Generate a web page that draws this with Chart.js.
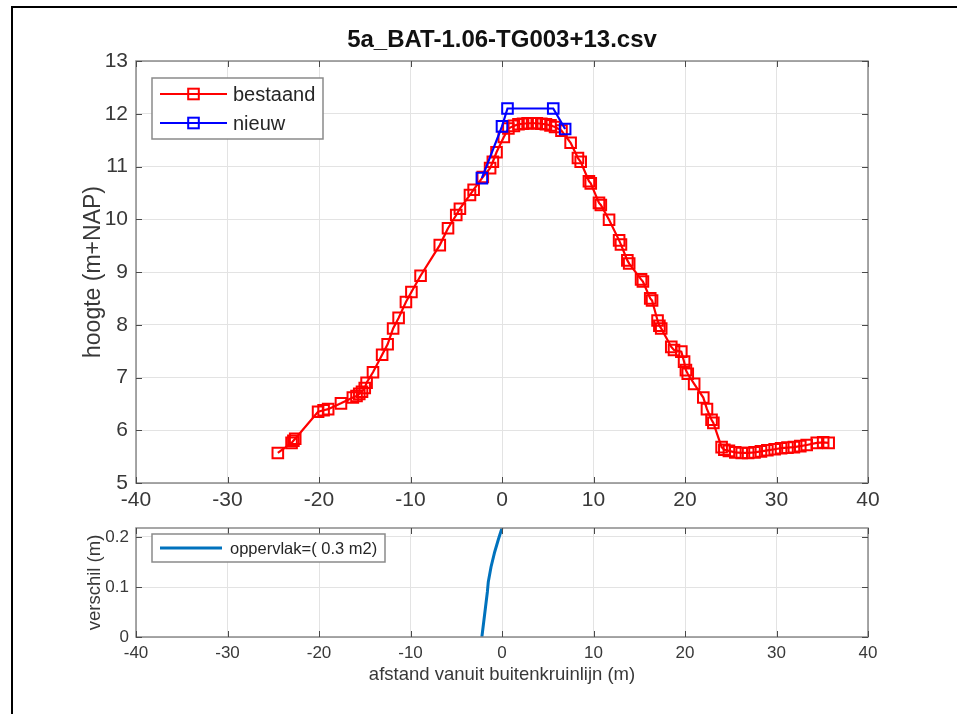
<!DOCTYPE html>
<html>
<head>
<meta charset="utf-8">
<script src="https://cdn.jsdelivr.net/npm/chart.js@4.4.1/dist/chart.umd.min.js"></script>
<style>
  html, body { margin: 0; padding: 0; background: #fff; width: 957px; height: 714px; overflow: hidden; }
  #frame { position: absolute; left: 11px; top: 6px; width: 1000px; height: 800px;
           border-left: 2px solid #000; border-top: 2px solid #000; }
  #profiel { position: absolute; left: 0; top: 0; }
  #verschil { position: absolute; left: 0; top: 510px; }
</style>
</head>
<body>
<div id="frame"></div>
<canvas id="profiel" width="957" height="520"></canvas>
<canvas id="verschil" width="957" height="204"></canvas>
<script>
// ---- profile data (afstand in m, hoogte in m+NAP) ----
const bestaandX = [-24.5, -23.0, -22.8, -22.6, -20.1, -19.5, -19.0, -17.6, -16.3, -15.9,
  -15.6, -15.3, -15.0, -14.8, -14.1, -13.1, -12.5, -11.9, -11.3, -10.5,
  -9.9, -8.9, -6.8, -5.9, -5.0, -4.6, -3.5, -3.1, -2.1, -1.3,
  -1.0, -0.6, 0.2, 0.7, 1.3, 1.8, 2.3, 2.8, 3.3, 3.8,
  4.3, 4.8, 5.3, 5.8, 6.5, 7.5, 8.3, 8.6, 9.5, 9.7,
  10.6, 10.8, 11.7, 12.8, 13.0, 13.7, 13.9, 15.2, 15.4, 16.2,
  16.4, 17.0, 17.2, 17.4, 18.5, 18.8, 19.6, 19.9, 20.1, 20.3,
  21.0, 22.0, 22.4, 22.9, 23.1, 24.0, 24.3, 24.8, 25.5, 26.2,
  26.9, 27.6, 28.3, 29.0, 29.8, 30.5, 31.2, 31.9, 32.6, 33.3,
  34.4, 35.1, 35.7];
const bestaandY = [5.57, 5.76, 5.80, 5.84, 6.35, 6.38, 6.40, 6.51, 6.62, 6.65,
  6.69, 6.73, 6.80, 6.90, 7.10, 7.43, 7.63, 7.93, 8.13, 8.43,
  8.62, 8.93, 9.51, 9.83, 10.08, 10.20, 10.46, 10.56, 10.80, 10.97,
  11.09, 11.27, 11.56, 11.72, 11.77, 11.80, 11.81, 11.82, 11.82, 11.82,
  11.81, 11.80, 11.78, 11.75, 11.68, 11.45, 11.16, 11.09, 10.72, 10.68,
  10.31, 10.27, 9.99, 9.60, 9.52, 9.22, 9.16, 8.86, 8.82, 8.50,
  8.46, 8.08, 7.98, 7.93, 7.58, 7.52, 7.49, 7.30, 7.14, 7.07,
  6.88, 6.62, 6.40, 6.20, 6.14, 5.68, 5.63, 5.61, 5.58, 5.57,
  5.57, 5.58, 5.60, 5.62, 5.64, 5.66, 5.67, 5.68, 5.70, 5.72,
  5.76, 5.77, 5.76];
const nieuwX = [-2.2, 0.0, 0.6, 5.6, 6.9];
const nieuwY = [10.78, 11.76, 12.1, 12.1, 11.71];

// ---- difference between profiles ----
const verschilX = [-2.2, -2.0, -1.8, -1.6, -1.5, -1.2, -0.8, -0.4, 0.0];
const verschilY = [0, 0.03, 0.06, 0.09, 0.11, 0.14, 0.17, 0.195, 0.218];

// ---- axis ticks ----
const afstandTicks = [-40, -30, -20, -10, 0, 10, 20, 30, 40];
const hoogteTicks = [5, 6, 7, 8, 9, 10, 11, 12, 13];
const verschilTicks = [0, 0.1, 0.2];

const FONT = '"Liberation Sans", Arial, Helvetica, sans-serif';
const TXT = '#383838';
const GRID = '#e3e3e3';

const toPoints = (xs, ys) => xs.map((x, i) => ({ x: x, y: ys[i] }));
const fixTicks = arr => scale => { scale.ticks = arr.map(v => ({ value: v })); };

// axes box with inward tick marks
const axesBox = {
  id: 'axesBox',
  afterDraw(chart) {
    const { ctx, chartArea: a, scales } = chart;
    ctx.save();
    ctx.strokeStyle = '#8a8a8a';
    ctx.lineWidth = 1.5;
    ctx.strokeRect(a.left, a.top, a.right - a.left, a.bottom - a.top);
    ctx.strokeStyle = '#4a4a4a';
    ctx.lineWidth = 1;
    const len = 6;
    scales.x.ticks.forEach(t => {
      const px = Math.round(scales.x.getPixelForValue(t.value)) + 0.5;
      ctx.beginPath();
      ctx.moveTo(px, a.bottom); ctx.lineTo(px, a.bottom - len);
      ctx.moveTo(px, a.top); ctx.lineTo(px, a.top + len);
      ctx.stroke();
    });
    scales.y.ticks.forEach(t => {
      const py = Math.round(scales.y.getPixelForValue(t.value)) + 0.5;
      ctx.beginPath();
      ctx.moveTo(a.left, py); ctx.lineTo(a.left + len, py);
      ctx.moveTo(a.right, py); ctx.lineTo(a.right - len, py);
      ctx.stroke();
    });
    ctx.restore();
  }
};

// boxed legend placed inside the plot area
const boxLegend = {
  id: 'boxLegend',
  afterDraw(chart, args, o) {
    const { ctx, chartArea: a } = chart;
    const x0 = a.left + o.x, y0 = a.top + o.y;
    ctx.save();
    ctx.fillStyle = '#fff';
    ctx.fillRect(x0, y0, o.width, o.height);
    ctx.strokeStyle = '#8a8a8a';
    ctx.lineWidth = 1.5;
    ctx.strokeRect(x0, y0, o.width, o.height);
    ctx.font = o.size + 'px ' + FONT;
    ctx.textBaseline = 'middle';
    ctx.textAlign = 'left';
    chart.data.datasets.forEach((ds, i) => {
      const y = y0 + o.firstRow + i * o.rowHeight;
      const l0 = x0 + o.lineStart, l1 = l0 + o.lineLength;
      ctx.strokeStyle = ds.borderColor;
      ctx.lineWidth = ds.borderWidth;
      ctx.beginPath(); ctx.moveTo(l0, y); ctx.lineTo(l1, y); ctx.stroke();
      if (ds.pointRadius > 0) {
        const s = ds.pointRadius * Math.SQRT1_2;
        ctx.lineWidth = ds.pointBorderWidth;
        ctx.strokeRect((l0 + l1) / 2 - s, y - s, 2 * s, 2 * s);
      }
      ctx.fillStyle = '#262626';
      ctx.fillText(ds.label, l1 + o.textGap, y + 1);
    });
    ctx.restore();
  }
};

Chart.register(axesBox, boxLegend);

new Chart(document.getElementById('profiel'), {
  type: 'scatter',
  data: {
    datasets: [
      {
        label: 'bestaand',
        data: toPoints(bestaandX, bestaandY),
        showLine: true,
        borderColor: '#ff0000',
        borderWidth: 2.2,
        pointStyle: 'rect',
        pointRadius: 7.5,
        pointBorderWidth: 2,
        pointBorderColor: '#ff0000',
        pointBackgroundColor: 'rgba(255,255,255,0)',
        order: 1
      },
      {
        label: 'nieuw',
        data: toPoints(nieuwX, nieuwY),
        showLine: true,
        borderColor: '#0000ff',
        borderWidth: 2.2,
        pointStyle: 'rect',
        pointRadius: 7.5,
        pointBorderWidth: 2,
        pointBorderColor: '#0000ff',
        pointBackgroundColor: 'rgba(255,255,255,0)',
        order: 0
      }
    ]
  },
  options: {
    responsive: false,
    animation: false,
    events: [],
    layout: { padding: { left: 80, right: 89, top: 0, bottom: 0 } },
    scales: {
      x: {
        type: 'linear', min: -40, max: 40,
        afterBuildTicks: fixTicks(afstandTicks),
        afterFit: s => { s.height = 37; },
        grid: { color: GRID, drawTicks: false },
        border: { display: false },
        ticks: { color: TXT, font: { family: FONT, size: 21 }, padding: 5, maxRotation: 0, autoSkip: false }
      },
      y: {
        type: 'linear', min: 5, max: 13,
        afterBuildTicks: fixTicks(hoogteTicks),
        afterFit: s => { s.width = 56; },
        grid: { color: GRID, drawTicks: false },
        border: { display: false },
        ticks: { color: TXT, font: { family: FONT, size: 21 }, padding: 8 },
        title: { display: true, text: 'hoogte (m+NAP)', color: TXT, font: { family: FONT, size: 23 }, padding: 0 }
      }
    },
    plugins: {
      legend: { display: false },
      tooltip: { enabled: false },
      title: {
        display: true, fullSize: false,
        text: '5a_BAT-1.06-TG003+13.csv',
        color: '#111',
        font: { family: FONT, size: 24, weight: 'bold' },
        padding: { top: 26, bottom: 6.2 }
      },
      boxLegend: { x: 16, y: 17, width: 171, height: 61, firstRow: 16, rowHeight: 29,
                   lineStart: 8, lineLength: 67, textGap: 6, size: 20 }
    }
  }
});

new Chart(document.getElementById('verschil'), {
  type: 'scatter',
  data: {
    datasets: [
      {
        label: 'oppervlak=( 0.3 m2)',
        data: toPoints(verschilX, verschilY),
        showLine: true,
        borderColor: '#0072bd',
        borderWidth: 3,
        pointRadius: 0,
        pointBorderWidth: 0
      }
    ]
  },
  options: {
    responsive: false,
    animation: false,
    events: [],
    layout: { padding: { left: 84, right: 89, top: 18, bottom: 0 } },
    scales: {
      x: {
        type: 'linear', min: -40, max: 40,
        afterBuildTicks: fixTicks(afstandTicks),
        afterFit: s => { s.height = 77; },
        grid: { color: GRID, drawTicks: false },
        border: { display: false },
        ticks: { color: TXT, font: { family: FONT, size: 17 }, padding: 6, maxRotation: 0, autoSkip: false },
        title: { display: true, text: 'afstand vanuit buitenkruinlijn (m)', color: TXT,
                 font: { family: FONT, size: 18.5 }, padding: { top: 0, bottom: 28 } }
      },
      y: {
        type: 'linear', min: 0, max: 0.218,
        afterBuildTicks: fixTicks(verschilTicks),
        afterFit: s => { s.width = 52; },
        grid: { color: GRID, drawTicks: false },
        border: { display: false },
        ticks: { color: TXT, font: { family: FONT, size: 17 }, padding: 7 },
        title: { display: true, text: 'verschil (m)', color: TXT, font: { family: FONT, size: 18.5 }, padding: 0 }
      }
    },
    plugins: {
      legend: { display: false },
      tooltip: { enabled: false },
      boxLegend: { x: 16, y: 6, width: 233, height: 28, firstRow: 14, rowHeight: 0,
                   lineStart: 8, lineLength: 62, textGap: 8, size: 16.5 }
    }
  }
});
</script>
</body>
</html>
